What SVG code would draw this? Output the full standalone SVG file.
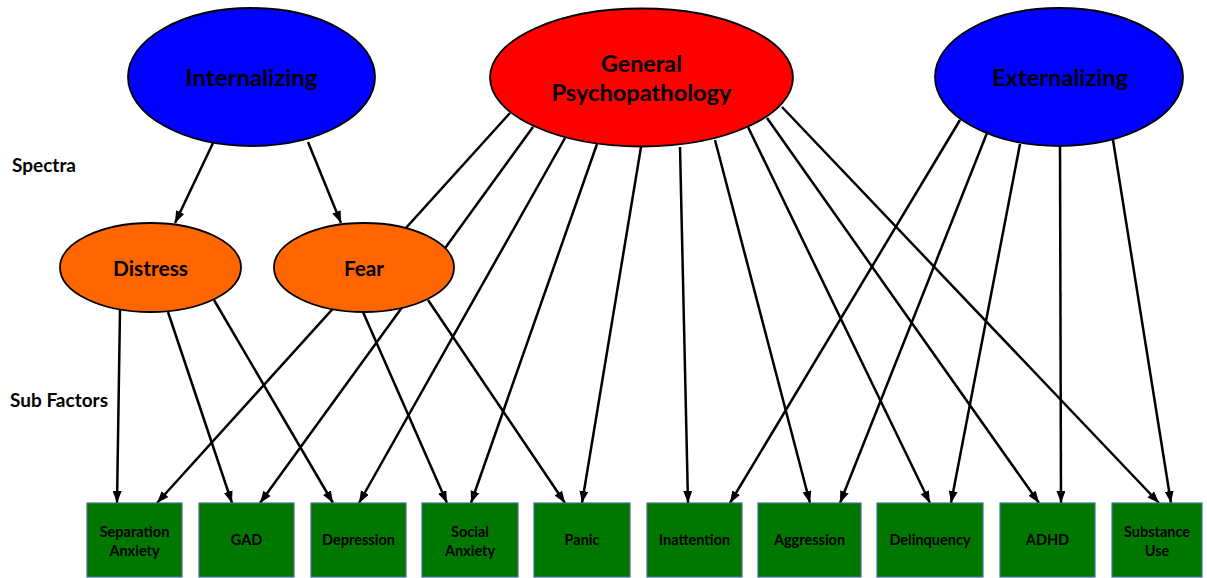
<svg xmlns="http://www.w3.org/2000/svg" width="1207" height="578" viewBox="0 0 1207 578">
<style>
.bg{fill:#ffffff}
.conn line{stroke:#000000;stroke-width:2.5;fill:none;marker-end:url(#ah)}
.ell{stroke:#000000;stroke-width:1.8}
.spec{fill:#0000ff}
.gen{fill:#ff0000}
.sub{fill:#ff6600}
.box{fill:#007800;stroke:#41719c;stroke-width:1.2}
text{font-family:Lato,"Liberation Sans",sans-serif;font-weight:bold;fill:#000000;text-anchor:middle}
.big{font-size:22px}
.mid{font-size:20px}
.side{font-size:18px;text-anchor:start}
.small{font-size:14.5px}
</style>
<defs>
<marker id="ah" markerUnits="userSpaceOnUse" markerWidth="13" markerHeight="10" refX="12" refY="4.5" orient="auto">
<path d="M0,0 L12,4.5 L0,9 Z" fill="#000000"/>
</marker>
</defs>
<rect class="bg" x="0" y="0" width="1207" height="578"/>
<g id="connectors" class="conn">
<line x1="213" y1="143" x2="175" y2="223"/>
<line x1="308" y1="142" x2="341" y2="223"/>
<line x1="120" y1="310" x2="117" y2="503"/>
<line x1="168" y1="312" x2="232" y2="503"/>
<line x1="214" y1="300" x2="333" y2="503"/>
<line x1="363" y1="312" x2="447" y2="503"/>
<line x1="428" y1="300" x2="565" y2="503"/>
<line x1="510" y1="113" x2="157" y2="503"/>
<line x1="533" y1="127" x2="260" y2="503"/>
<line x1="565" y1="138" x2="359" y2="503"/>
<line x1="597" y1="144" x2="471" y2="503"/>
<line x1="641" y1="147" x2="582" y2="503"/>
<line x1="680" y1="147" x2="688" y2="503"/>
<line x1="715" y1="140" x2="810" y2="503"/>
<line x1="748" y1="127" x2="930" y2="503"/>
<line x1="767" y1="118" x2="1039" y2="503"/>
<line x1="782" y1="107" x2="1159" y2="503"/>
<line x1="960" y1="120" x2="730" y2="503"/>
<line x1="987" y1="133" x2="840" y2="503"/>
<line x1="1020" y1="144" x2="951" y2="503"/>
<line x1="1060" y1="146" x2="1061" y2="503"/>
<line x1="1113" y1="140" x2="1171" y2="503"/>
</g>
<g id="labels">
<text class="side" x="12" y="172" textLength="64" lengthAdjust="spacingAndGlyphs">Spectra</text>
<text class="side" x="10" y="407" textLength="98" lengthAdjust="spacingAndGlyphs">Sub Factors</text>
</g>
<g id="internalizing">
<ellipse class="ell spec" cx="251.5" cy="77" rx="123.5" ry="69"/>
<text class="big" x="251.5" y="86" textLength="132" lengthAdjust="spacingAndGlyphs">Internalizing</text>
</g>
<g id="general">
<ellipse class="ell gen" cx="641.5" cy="77.5" rx="151.5" ry="69"/>
<text class="big" x="641.5" y="72" textLength="81" lengthAdjust="spacingAndGlyphs">General</text>
<text class="big" x="641.5" y="101" textLength="180" lengthAdjust="spacingAndGlyphs">Psychopathology</text>
</g>
<g id="externalizing">
<ellipse class="ell spec" cx="1059" cy="77" rx="124" ry="69"/>
<text class="big" x="1060" y="86" textLength="136" lengthAdjust="spacingAndGlyphs">Externalizing</text>
</g>
<g id="distress">
<ellipse class="ell sub" cx="150.5" cy="267.5" rx="90.5" ry="44.5"/>
<text class="mid" x="150.5" y="276" textLength="75" lengthAdjust="spacingAndGlyphs">Distress</text>
</g>
<g id="fear">
<ellipse class="ell sub" cx="364" cy="267.5" rx="90" ry="44.5"/>
<text class="mid" x="364" y="276" textLength="40" lengthAdjust="spacingAndGlyphs">Fear</text>
</g>
<g id="separation-anxiety">
<rect class="box" x="87" y="503" width="95" height="74"/>
<text class="small" x="134.5" y="537">Separation</text>
<text class="small" x="134.5" y="556">Anxiety</text>
</g>
<g id="gad">
<rect class="box" x="199" y="503" width="95" height="74"/>
<text class="small" x="246.5" y="545">GAD</text>
</g>
<g id="depression">
<rect class="box" x="311" y="503" width="95" height="74"/>
<text class="small" x="358.5" y="545">Depression</text>
</g>
<g id="social-anxiety">
<rect class="box" x="422" y="503" width="96" height="74"/>
<text class="small" x="470" y="537">Social</text>
<text class="small" x="470" y="556">Anxiety</text>
</g>
<g id="panic">
<rect class="box" x="534" y="503" width="96" height="74"/>
<text class="small" x="582" y="545">Panic</text>
</g>
<g id="inattention">
<rect class="box" x="647" y="503" width="95" height="74"/>
<text class="small" x="694.5" y="545">Inattention</text>
</g>
<g id="aggression">
<rect class="box" x="758" y="503" width="103" height="74"/>
<text class="small" x="809.5" y="545">Aggression</text>
</g>
<g id="delinquency">
<rect class="box" x="877" y="503" width="106" height="74"/>
<text class="small" x="930" y="545">Delinquency</text>
</g>
<g id="adhd">
<rect class="box" x="1000" y="503" width="95" height="74"/>
<text class="small" x="1047.5" y="545">ADHD</text>
</g>
<g id="substance-use">
<rect class="box" x="1112" y="503" width="90" height="74"/>
<text class="small" x="1157" y="537">Substance</text>
<text class="small" x="1157" y="556">Use</text>
</g>
</svg>
